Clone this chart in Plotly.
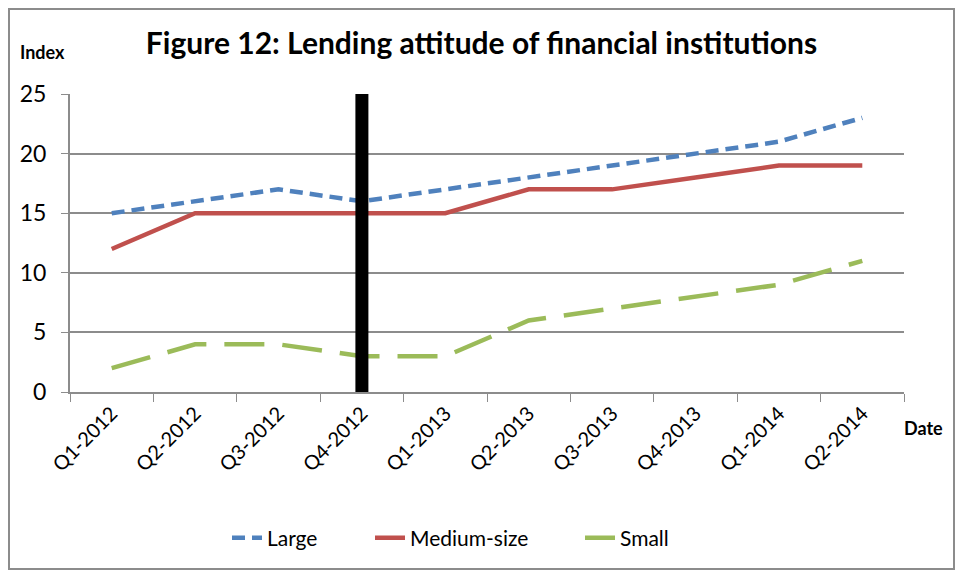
import plotly.graph_objects as go

quarters = ["Q1-2012", "Q2-2012", "Q3-2012", "Q4-2012", "Q1-2013",
            "Q2-2013", "Q3-2013", "Q4-2013", "Q1-2014", "Q2-2014"]
large = [15, 16, 17, 16, 17, 18, 19, 20, 21, 23]
medium = [12, 15, 15, 15, 15, 17, 17, 18, 19, 19]
small = [2, 4, 4, 3, 3, 6, 7, 8, 9, 11]
event_quarter = "Q4-2012"
y_ticks = [0, 5, 10, 15, 20, 25]

# page body has an 8px margin, so the figure is sized/positioned accordingly
W, H = 947, 562
L, R, T, B = 62, 51, 86, 178
pw, ph = W - L - R, H - T - B


def px_x(x):
    return (x - L) / pw


def px_y(y):
    return 1 - (y - T) / ph


FONT = "Lato, Calibri, 'Open Sans', sans-serif"
GREY = "#8C8C8C"

fig = go.Figure()
fig.add_trace(go.Scatter(x=quarters, y=large, name="Large", mode="lines", legend="legend",
                         line=dict(color="#4F81BD", width=4.5, dash="13px,7px")))
fig.add_trace(go.Scatter(x=quarters, y=medium, name="Medium-size", mode="lines", legend="legend2",
                         line=dict(color="#C0504D", width=4.5)))
fig.add_trace(go.Scatter(x=quarters, y=small, name="Small", mode="lines", legend="legend3",
                         line=dict(color="#9BBB59", width=4.5, dash="40px,18px")))

# event marker bar
fig.add_shape(type="line", xref="x", yref="y", x0=event_quarter, x1=event_quarter,
              y0=0, y1=25, line=dict(color="black", width=13), layer="above")

# outer border
fig.add_shape(type="rect", xref="paper", yref="paper",
              x0=px_x(1), x1=px_x(W - 1), y0=px_y(H - 1), y1=px_y(1),
              line=dict(color=GREY, width=2), layer="below")

leg_common = dict(orientation="h", xanchor="left", yanchor="middle", y=px_y(530),
                  font=dict(size=21, family=FONT), bgcolor="rgba(0,0,0,0)")

fig.update_layout(
    width=W, height=H,
    margin=dict(l=L, r=R, t=T, b=B),
    paper_bgcolor="white", plot_bgcolor="white",
    font=dict(family=FONT, color="black"),
    title=dict(text="<b>Figure 12: Lending attitude of financial institutions</b>",
               x=0.5, xanchor="center", y=1 - 35 / H, yanchor="middle",
               font=dict(size=30, family=FONT)),
    showlegend=True,
    legend=dict(x=px_x(219), **leg_common),
    legend2=dict(x=px_x(362), **leg_common),
    legend3=dict(x=px_x(572), **leg_common),
    xaxis=dict(type="category", range=[-0.5, len(quarters) - 0.5],
               tickson="boundaries", ticks="outside", ticklen=8, tickcolor=GREY,
               showline=True, linecolor=GREY, linewidth=2,
               showgrid=False, tickangle=-45, tickfont=dict(size=20, family=FONT)),
    yaxis=dict(range=[0, 25], tickvals=y_ticks, ticks="outside", ticklen=7,
               tickcolor=GREY, showline=True, linecolor=GREY, linewidth=2,
               gridcolor=GREY, gridwidth=1.5, zeroline=False, ticklabelstandoff=10,
               tickfont=dict(size=23, family=FONT)),
    annotations=[
        dict(text="<b>Index</b>", xref="paper", yref="paper",
             x=px_x(10), y=px_y(44), xanchor="left", yanchor="middle",
             showarrow=False, font=dict(size=18, family=FONT)),
        dict(text="<b>Date</b>", xref="paper", yref="paper",
             x=px_x(894), y=px_y(420), xanchor="left", yanchor="middle",
             showarrow=False, font=dict(size=18, family=FONT)),
    ],
)

fig.write_html("out.html")
